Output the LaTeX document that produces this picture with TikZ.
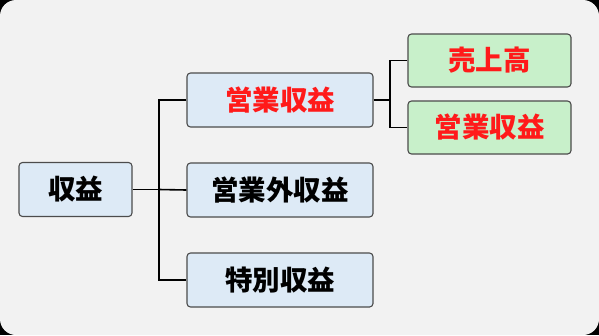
\documentclass[tikz,border=0pt]{standalone}
\usepackage{fontspec}
\newfontfamily\jp{Noto Sans CJK JP}
\definecolor{bluebox}{HTML}{DDEAF6}
\definecolor{greenbox}{HTML}{C8F0CA}
\definecolor{redtext}{HTML}{FF1A1A}
\definecolor{bggray}{HTML}{F2F2F2}
\newcommand{\lbl}[1]{{\jp\bfseries #1}}

\begin{document}
\begin{tikzpicture}[x=1pt, y=-1pt, line width=1.6pt,
  box/.style={draw=black!70, line width=1.1pt, rounded corners=3.5pt, fill=bluebox,
    minimum height=54pt, inner sep=0pt, font=\fontsize{27.5}{27.5}\selectfont},
  gbox/.style={box, fill=greenbox, minimum height=53pt, minimum width=163pt, text=redtext}]
  \fill[black] (0,0) rectangle (599,335);
  \fill[bggray, rounded corners=16pt] (0,0) rectangle (599,335);
  \useasboundingbox (0,0) rectangle (599,335);
  % left column
  \node[box, minimum width=113pt] (root) at (75.5,189.5) {\lbl{収益}};
  % middle column
  \node[box, minimum width=186pt, text=redtext] (eigyo) at (280,100) {\lbl{営業収益}};
  \node[box, minimum width=186pt] (gai) at (280,190) {\lbl{営業外収益}};
  \node[box, minimum width=186pt] (tokubetsu) at (280,280) {\lbl{特別収益}};
  % right column
  \node[gbox] (uriage) at (489.5,60.5) {\lbl{売上高}};
  \node[gbox] (eigyo2) at (489.5,127.5) {\lbl{営業収益}};
  % connectors
  \coordinate (j1) at (159,189.5);
  \coordinate (j2) at (390,100);
  \draw (root.east) -- (j1);
  \draw (eigyo.west) -| (j1) |- (tokubetsu.west);
  \draw (j1) -- (gai.west);
  \draw (eigyo.east) -- (j2);
  \draw (uriage.west) -| (j2) |- (eigyo2.west);
\end{tikzpicture}
\end{document}
